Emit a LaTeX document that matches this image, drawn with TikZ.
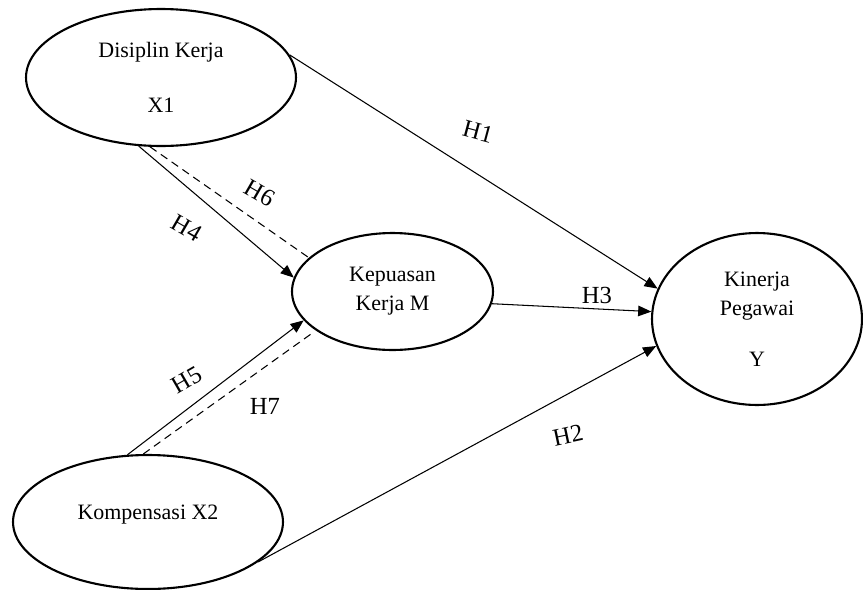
\documentclass[tikz,border=0pt]{standalone}
\usepackage{fontspec}
\setmainfont{Liberation Serif}
\usepackage{tikz}
\usetikzlibrary{arrows.meta,shapes.geometric}

\begin{document}
\begin{tikzpicture}[x=0.02cm,y=-0.02cm,
  var/.style={draw,ellipse,line width=1.2pt,inner sep=0pt,align=center,font=\fontsize{12.5}{16.5}\selectfont},
  effect/.style={line width=0.6pt,-{Triangle[length=7.5pt,width=6pt]}},
  mediated/.style={line width=0.6pt,dash pattern=on 4.5pt off 3pt},
  hyp/.style={font=\fontsize{14}{17}\selectfont}]
\useasboundingbox (0,0) rectangle (863,589);
\node [var, minimum width=5.4cm, minimum height=2.74cm] (x1) at (161,77.5) {Disiplin Kerja\\[0.52cm]X1};
\node [var, minimum width=4.02cm, minimum height=2.34cm] (m) at (392.5,291.5) {Kepuasan\\Kerja M};
\node [var, minimum width=4.2cm, minimum height=3.44cm] (y) at (757,319) {Kinerja\\Pegawai\\[0.44cm]Y};
\node [var, minimum width=5.4cm, minimum height=2.68cm, text depth=0.4cm] (x2) at (148,522) {Kompensasi X2};
\draw [effect] (x1.10) -- (y.163);
\draw [effect] (x1.-108) -- (m.172);
\draw [mediated] (x1.-99) -- (m.158);
\draw [effect] (x2.107) -- (m.198);
\draw [mediated, shorten >=3pt] (x2.94) -- (m.207);
\draw [effect] (m.-7) -- (y.176);
\draw [effect] (x2.-20) -- (y.195);
\node [hyp, rotate=-15] (h1) at (478,132) {H1};
\node [hyp, rotate=12] (h2) at (568,435) {H2};
\node [hyp] (h3) at (597,295) {H3};
\node [hyp, rotate=-30] (h4) at (187,228) {H4};
\node [hyp, rotate=30] (h5) at (187,380) {H5};
\node [hyp, rotate=-30] (h6) at (260,193) {H6};
\node [hyp] (h7) at (265,406) {H7};
\end{tikzpicture}
\end{document}
